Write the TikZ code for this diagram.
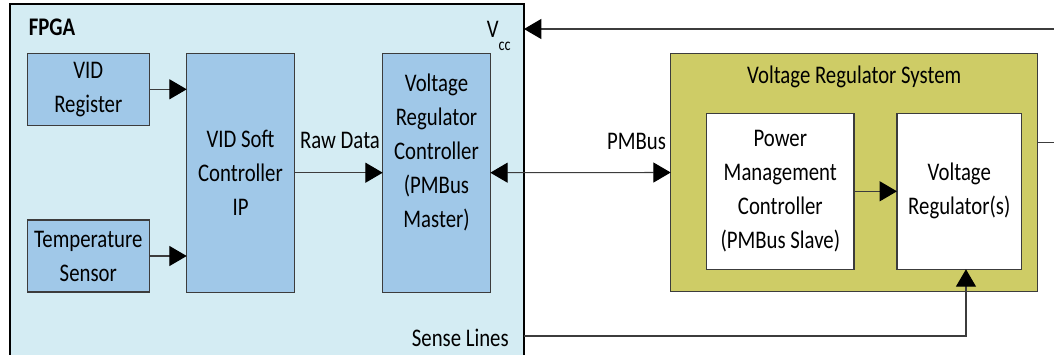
\documentclass[tikz,border=0pt]{standalone}
\usepackage{fontspec}
\setmainfont{Carlito}[FakeStretch=0.82]
\usepackage{tikz}
\usetikzlibrary{arrows.meta,positioning}
\definecolor{fpgablue}{RGB}{212,236,243}
\definecolor{ipblue}{RGB}{160,200,232}
\definecolor{vrsolive}{RGB}{206,204,102}
\definecolor{linegray}{RGB}{60,60,60}

\begin{document}
\begin{tikzpicture}[x=0.75pt, y=-0.75pt,
  txt/.style={font=\fontsize{19}{25.5}\selectfont, align=center, inner sep=0pt},
  blk/.style={txt, draw=linegray, line width=0.8pt, outer sep=0pt},
  ipblk/.style={blk, fill=ipblue},
  vrblk/.style={blk, fill=white},
  flow/.style={draw=linegray, line width=0.8pt, -{Triangle[length=13pt,width=15pt,color=black]}},
  biflow/.style={draw=linegray, line width=0.8pt, {Triangle[length=13pt,width=15pt,color=black]}-{Triangle[length=13pt,width=15pt,color=black]}}]
  \useasboundingbox (0,0) rectangle (1054,354);
  \clip (0,0) rectangle (1054,354);
  % FPGA side
  \node[draw=black, line width=0.8pt, fill=fpgablue, minimum width=385.5pt, minimum height=274.5pt, inner sep=0pt, outer sep=0pt] (fpga) at (267,187) {};
  \node[txt, anchor=base west, font=\fontsize{19}{25.5}\selectfont\bfseries] (fpgalabel) at (28.5,35) {FPGA};
  \node[txt, anchor=base east] (vcclabel) at (511,37) {V\raisebox{-0.55em}{\fontsize{13}{13}\selectfont cc}};
  \node[ipblk, minimum width=91.5pt, minimum height=54pt] (vidreg) at (88.3,89.3) {VID\\Register};
  \node[ipblk, minimum width=91.5pt, minimum height=54pt] (tempsens) at (88.3,256) {Temperature\\Sensor};
  \node[ipblk, minimum width=80.7pt, minimum height=179pt] (softip) at (240.5,172.7) {VID Soft\\Controller\\IP};
  \node[ipblk, minimum width=80.7pt, minimum height=179pt] (vrc) at (436.5,172.7) {};
  \node[txt] (vrctext) at (436.5,152) {Voltage\\Regulator\\Controller\\(PMBus\\Master)};
  \node[txt, anchor=base] (rawdata) at (340,148.5) {Raw Data};
  \node[txt, anchor=base east] (senselabel) at (509,346) {Sense Lines};
  % Voltage regulator side
  \node[blk, fill=vrsolive, minimum width=275.25pt, minimum height=178.8pt] (vrs) at (854.2,172.5) {};
  \node[txt, anchor=base] (vrstitle) at (854.2,83.5) {Voltage Regulator System};
  \node[vrblk, minimum width=110.5pt, minimum height=117pt] (pmc) at (780.3,191.3) {Power\\Management\\Controller\\(PMBus Slave)};
  \node[vrblk, minimum width=93.5pt, minimum height=117pt] (vreg) at (959.3,191.3) {Voltage\\Regulator(s)};
  \node[txt, anchor=base] (pmbus) at (636.5,149.3) {PMBus};
  % Connections
  \draw[flow] (vidreg.east) -- (vidreg.east -| softip.west);
  \draw[flow] (tempsens.east) -- (tempsens.east -| softip.west);
  \draw[flow] (softip.east) -- (vrc.west);
  \draw[biflow] (vrc.east) -- (vrs.west);
  \draw[flow] (pmc.east) -- (vreg.west);
  % Vcc feed and sense lines
  \coordinate (vccturn) at (1080,29);
  \coordinate (sensein) at (524,336);
  \draw[flow] ([yshift=22.4pt]vrs.east) -| (vccturn) -- (vccturn -| fpga.east);
  \draw[flow] (sensein) -| ([xshift=5pt]vreg.south);
\end{tikzpicture}
\end{document}
